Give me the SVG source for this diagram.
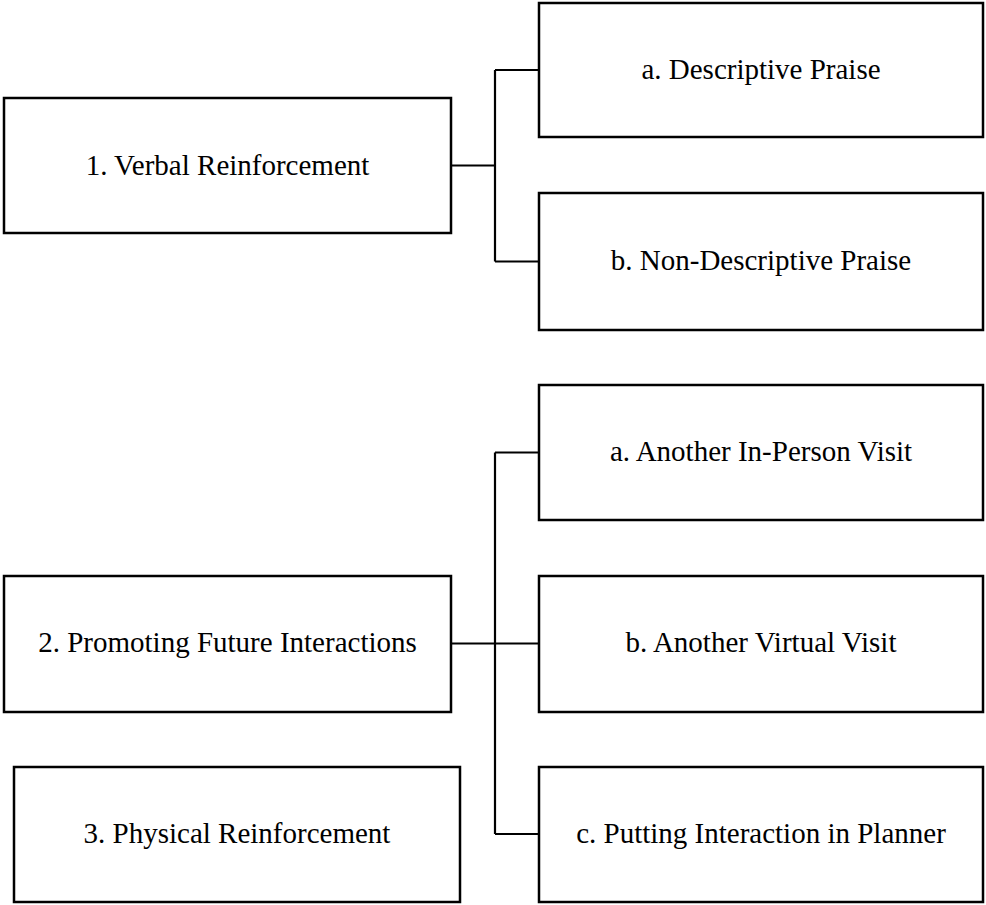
<svg xmlns="http://www.w3.org/2000/svg" width="986" height="905" viewBox="0 0 986 905">
<style>
.box{fill:#fff;stroke:#000;stroke-width:2.5}
.lbl{font-size:29px;fill:#000;text-anchor:middle}
.con{fill:none;stroke:#000;stroke-width:2.2}
</style>
<rect width="986" height="905" fill="#fff"/>
<g id="connectors">
<path class="con" d="M451 165.5H495M495 70V261.5M495 70H539M495 261.5H539"/>
<path class="con" d="M451 643.5H539M495 452.5V834M495 452.5H539M495 834H539"/>
</g>
<g font-family="Liberation Serif, DejaVu Serif, serif">
<g id="n1"><rect class="box" x="4" y="98" width="447" height="135"/><text class="lbl" x="227.5" y="174.5">1. Verbal Reinforcement</text></g>
<g id="n1a"><rect class="box" x="539" y="3" width="444" height="134"/><text class="lbl" x="761" y="79">a. Descriptive Praise</text></g>
<g id="n1b"><rect class="box" x="539" y="193" width="444" height="137"/><text class="lbl" x="761" y="270">b. Non-Descriptive Praise</text></g>
<g id="n2"><rect class="box" x="4" y="576" width="447" height="136"/><text class="lbl" x="227.5" y="652">2. Promoting Future Interactions</text></g>
<g id="n2a"><rect class="box" x="539" y="385" width="444" height="135"/><text class="lbl" x="761" y="461">a. Another In-Person Visit</text></g>
<g id="n2b"><rect class="box" x="539" y="576" width="444" height="136"/><text class="lbl" x="761" y="652">b. Another Virtual Visit</text></g>
<g id="n2c"><rect class="box" x="539" y="767" width="444" height="135"/><text class="lbl" x="761" y="843">c. Putting Interaction in Planner</text></g>
<g id="n3"><rect class="box" x="14" y="767" width="446" height="135"/><text class="lbl" x="237" y="843">3. Physical Reinforcement</text></g>
</g>
</svg>
